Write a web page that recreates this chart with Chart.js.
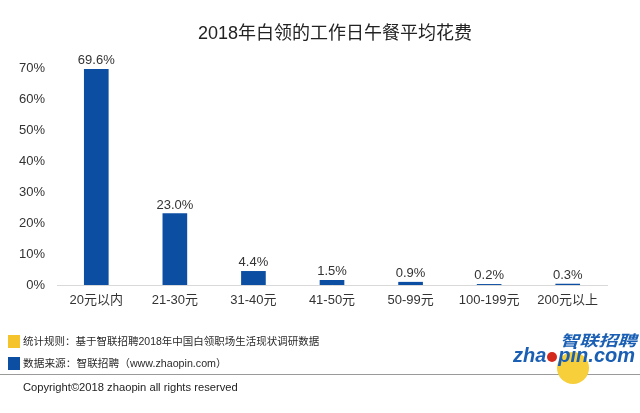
<!DOCTYPE html>
<html><head><meta charset="utf-8">
<script src="https://cdn.jsdelivr.net/npm/chart.js@4/dist/chart.umd.min.js"></script>
<style>
html,body{margin:0;padding:0;background:#fff;}
#wrap{position:relative;width:640px;height:413px;overflow:hidden;font-family:"Liberation Sans","Noto Sans CJK SC",sans-serif;}
canvas{position:absolute;left:0;top:0;}
.t{position:absolute;white-space:nowrap;color:#333;}
</style></head>
<body><div id="wrap">
<canvas id="c" width="640" height="413"></canvas>
<div class="t" style="left:0;width:670px;top:18px;text-align:center;font-size:18px;color:#222;">2018年白领的工作日午餐平均花费</div>
<div style="position:absolute;left:8px;top:335px;width:12px;height:13px;background:#f5c42c;"></div>
<div class="t" style="left:23px;top:334px;font-size:10.5px;line-height:14px;color:#2a2a2a;">统计规则：基于智联招聘2018年中国白领职场生活现状调研数据</div>
<div style="position:absolute;left:8px;top:357px;width:12px;height:13px;background:#0c4ea2;"></div>
<div class="t" style="left:23px;top:356px;font-size:10.7px;line-height:14px;color:#2a2a2a;">数据来源：智联招聘（www.zhaopin.com）</div>
<div style="position:absolute;left:0;top:374px;width:640px;height:1px;background:#9a9a9a;"></div>
<div class="t" style="left:23px;top:380px;font-size:11.2px;line-height:14px;color:#222;">Copyright©2018 zhaopin all rights reserved</div>
<div style="position:absolute;left:557px;top:352px;width:32px;height:32px;border-radius:50%;background:#f6cf3a;"></div>
<div class="t" style="left:560px;top:332px;font-size:15px;line-height:17px;font-weight:bold;font-style:italic;color:#1a5fb4;transform:scaleX(1.28);transform-origin:left top;">智联招聘</div>
<div class="t" style="left:513px;top:344px;font-size:20px;line-height:22px;font-weight:bold;font-style:italic;color:#1a5fb4;">zha<span style="display:inline-block;width:10px;height:10px;border-radius:50%;background:#d42a1e;margin:0 1px;"></span>pin.com</div>
</div>
<script>
const categories = ["20元以内","21-30元","31-40元","41-50元","50-99元","100-199元","200元以上"];
const shares = [69.6, 23.0, 4.4, 1.5, 0.9, 0.2, 0.3];
const yTicks = [0,10,20,30,40,50,60,70];

const valueLabels = {
  id:'valueLabels',
  afterDatasetsDraw(chart){
    const ctx = chart.ctx;
    const meta = chart.getDatasetMeta(0);
    ctx.save();
    ctx.font = '13px "Liberation Sans", sans-serif';
    ctx.fillStyle = '#333';
    ctx.textAlign = 'center';
    ctx.textBaseline = 'bottom';
    meta.data.forEach((bar,i)=>{
      ctx.fillText(shares[i].toFixed(1)+'%', bar.x, bar.y - 2);
    });
    ctx.restore();
  }
};

new Chart(document.getElementById('c'), {
  type:'bar',
  data:{labels:categories, datasets:[{data:shares, backgroundColor:'#0c4ea2', borderWidth:0, barThickness:24}]},
  options:{
    responsive:false, animation:false,
    layout:{padding:{top:68,right:33,bottom:98,left:0}},
    plugins:{legend:{display:false}, title:{display:false}, tooltip:{enabled:false}},
    scales:{
      x:{
        grid:{display:false, drawTicks:false},
        border:{display:true,color:'#d9d9d9',width:1},
        ticks:{color:'#333',font:{size:13,family:'"Liberation Sans","Noto Sans CJK SC",sans-serif'},padding:8,maxRotation:0,autoSkip:false},
        afterFit(s){ s.height = 30; }
      },
      y:{
        min:0,max:70,
        afterBuildTicks(s){ s.ticks = yTicks.map(v=>({value:v})); },
        grid:{display:false, drawTicks:false},
        border:{display:false},
        ticks:{color:'#333',font:{size:13,family:'"Liberation Sans",sans-serif'},padding:12,callback:v=>v+'%'},
        afterFit(s){ s.width = 57; }
      }
    }
  },
  plugins:[valueLabels]
});
</script>
</body></html>
